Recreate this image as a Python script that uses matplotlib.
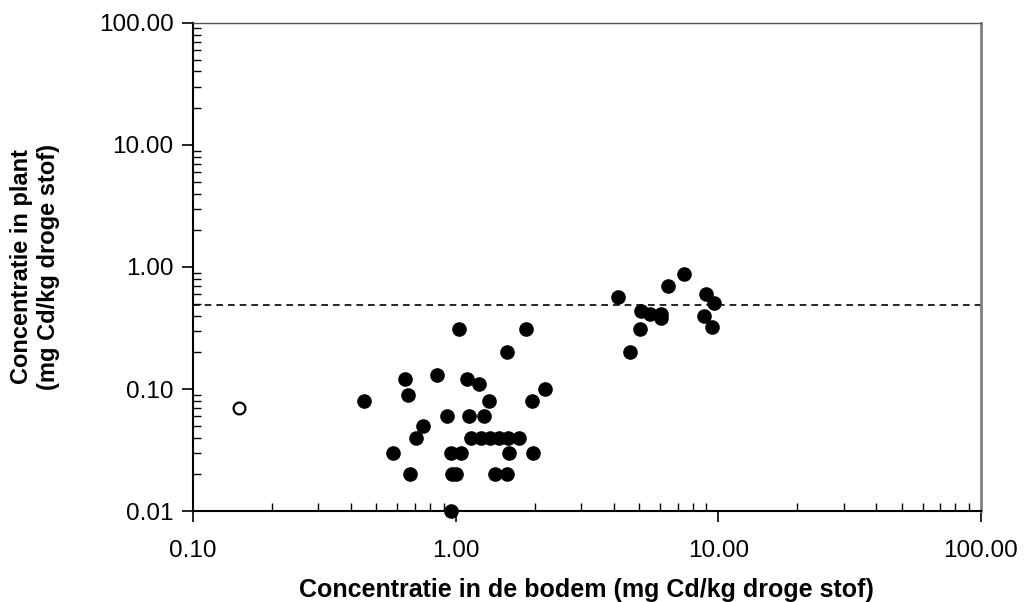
import matplotlib.pyplot as plt
from matplotlib.ticker import LogLocator, FixedLocator, NullFormatter

plt.rcParams['font.family'] = ['Liberation Sans', 'DejaVu Sans']

# gemeten concentraties (mg Cd/kg droge stof)
bodem = [1.03, 1.85, 1.57, 0.64, 0.85, 1.11, 1.23, 2.20, 0.66, 0.45,
         1.34, 1.95, 0.93, 1.13, 1.28, 0.75, 0.71, 1.15, 1.25, 1.35,
         1.46, 1.58, 1.75, 0.58, 0.96, 1.05, 1.60, 1.97, 0.67, 0.97,
         1.00, 1.41, 1.57, 0.96,
         4.14, 7.40, 6.45, 8.97, 9.66, 5.10, 5.52, 6.08, 6.08, 8.84,
         5.02, 9.49, 4.60]
plant = [0.31, 0.31, 0.20, 0.12, 0.13, 0.12, 0.11, 0.10, 0.09, 0.08,
         0.08, 0.08, 0.06, 0.06, 0.06, 0.05, 0.04, 0.04, 0.04, 0.04,
         0.04, 0.04, 0.04, 0.03, 0.03, 0.03, 0.03, 0.03, 0.02, 0.02,
         0.02, 0.02, 0.02, 0.01,
         0.57, 0.87, 0.70, 0.60, 0.51, 0.44, 0.41, 0.41, 0.38, 0.40,
         0.31, 0.32, 0.20]

# afwijkend monster (open symbool)
bodem_open = [0.15]
plant_open = [0.07]

norm = 0.49

fig = plt.figure(figsize=(10.26, 6.02), dpi=100)
ax = fig.add_axes([0.188, 0.151, 0.768, 0.811])

ax.set_xscale('log')
ax.set_yscale('log')
ax.set_xlim(0.1, 100)
ax.set_ylim(0.01, 100)

ax.axhline(norm, color='black', linestyle=(0, (4, 3)), linewidth=1.2, zorder=1)

ax.plot(bodem, plant, 'o', color='black', markersize=9.5, zorder=3, clip_on=False)
ax.plot(bodem_open, plant_open, 'o', markerfacecolor='white',
        markeredgecolor='black', markersize=8.5, markeredgewidth=1.6, zorder=3)

xt = [0.1, 1, 10, 100]
yt = [0.01, 0.1, 1, 10, 100]
ax.xaxis.set_major_locator(FixedLocator(xt))
ax.yaxis.set_major_locator(FixedLocator(yt))
ax.set_xticklabels(['%.2f' % v for v in xt])
ax.set_yticklabels(['%.2f' % v for v in yt])
ax.xaxis.set_minor_locator(LogLocator(base=10, subs=range(2, 10)))
ax.yaxis.set_minor_locator(LogLocator(base=10, subs=range(2, 10)))
ax.xaxis.set_minor_formatter(NullFormatter())
ax.yaxis.set_minor_formatter(NullFormatter())

ax.tick_params(which='major', direction='out', length=8, width=1.2,
               labelsize=17.5, pad=13)
ax.tick_params(axis='y', which='major', pad=6)
ax.tick_params(which='minor', direction='in', length=6, width=1)

for s in ['left', 'bottom']:
    ax.spines[s].set_linewidth(1.5)
ax.spines['top'].set_color('#555555')
ax.spines['top'].set_linewidth(1)
ax.spines['right'].set_color('#808080')
ax.spines['right'].set_linewidth(2)

ax.set_xlabel('Concentratie in de bodem (mg Cd/kg droge stof)',
              fontsize=18, fontweight='bold', labelpad=11)
ax.set_ylabel('Concentratie in plant\n(mg Cd/kg droge stof)',
              fontsize=17, fontweight='bold', labelpad=28)

plt.savefig('out.png', dpi=100)
